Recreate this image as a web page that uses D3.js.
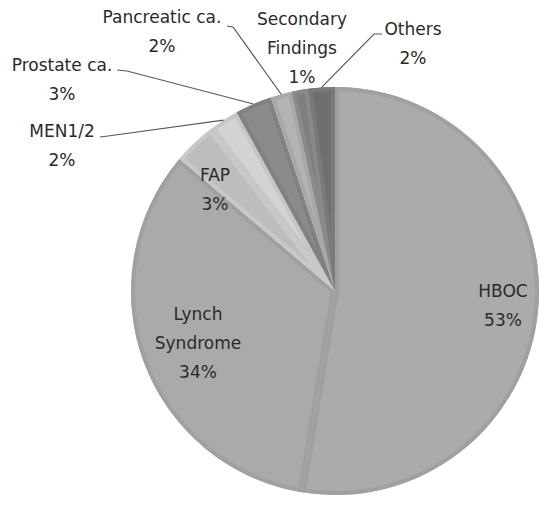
<!DOCTYPE html>
<html>
<head>
<meta charset="utf-8">
<script src="https://cdn.jsdelivr.net/npm/d3@7"></script>
<style>
  html, body { margin: 0; padding: 0; background: #fff; }
  svg { display: block; }
</style>
</head>
<body>
<div id="chart"></div>
<script>
// data, clockwise from 12 o'clock
const categories = ["HBOC", "Lynch Syndrome", "FAP", "MEN1/2", "Prostate ca.", "Pancreatic ca.", "Secondary Findings", "Others"];
const shares = [52.6, 33.6, 3.4, 2.4, 2.9, 1.7, 1.3, 2.1];

// label text lines (name part) per category
const labelLines = [["HBOC"], ["Lynch", "Syndrome"], ["FAP"], ["MEN1/2"], ["Prostate ca."], ["Pancreatic ca."], ["Secondary", "Findings"], ["Others"]];

// styling
const fills = ["#ababab", "#aaaaaa", "#bdbdbd", "#d3d3d3", "#8b8b8b", "#b4b4b4", "#7f7f7f", "#6f6f6f"];
const rims  = ["#a0a0a0", "#a0a0a0", "#c8c8c8", "#c6c6c6", "#818181", "#a8a8a8", "#8a8a8a", "#7a7a7a"];

// label layout: block centre x, first baseline y, optional leader elbow (label side)
const labelPos = [
    { x: 503, y: 297 },
    { x: 198, y: 320 },
    { x: 215, y: 181 },
    { x: 62,  y: 137, lead: [[100, 137], [108, 136]] },
    { x: 62,  y: 71,  lead: [[117, 70], [127, 71]] },
    { x: 162, y: 23,  lead: [[227, 26], [233, 27]] },
    { x: 302, y: 25 },
    { x: 413, y: 35,  lead: [[382, 34], [374, 34]] }
];

const width = 551, height = 510;
const cx = 335, cy = 291, radius = 204;
const lineH = 29;

const svg = d3.select("#chart").append("svg")
    .attr("width", width)
    .attr("height", height);

const pie = d3.pie().sort(null).value(d => d)(shares);
const arc = d3.arc().innerRadius(0).outerRadius(radius);

const g = svg.append("g").attr("transform", `translate(${cx},${cy})`);

const defs = svg.append("defs");
pie.forEach((d, i) => {
    defs.append("clipPath").attr("id", "clip" + i)
        .append("path").attr("d", arc(d));
});

const slices = g.selectAll(".slice").data(pie).enter().append("g")
    .attr("class", "slice");

slices.append("path")
    .attr("d", arc)
    .attr("fill", (d, i) => fills[i]);

// bevel-like rim on each slice
slices.append("path")
    .attr("d", arc)
    .attr("fill", "none")
    .attr("stroke", (d, i) => rims[i])
    .attr("stroke-width", 8)
    .attr("clip-path", (d, i) => `url(#clip${i})`);

// leader lines
const edgePoint = d => {
    const a = (d.startAngle + d.endAngle) / 2;
    return [cx + radius * Math.sin(a), cy - radius * Math.cos(a)];
};

pie.forEach((d, i) => {
    const p = labelPos[i];
    if (!p.lead) return;
    const pts = [p.lead[0], p.lead[1], edgePoint(d)];
    svg.append("path")
        .attr("d", d3.line()(pts))
        .attr("fill", "none")
        .attr("stroke", "#595959")
        .attr("stroke-width", 1.2);
});

// labels
const labels = svg.selectAll(".label").data(pie).enter().append("text")
    .attr("class", "label")
    .attr("text-anchor", "middle")
    .attr("font-family", "'DejaVu Sans', Verdana, sans-serif")
    .attr("font-size", "17px")
    .attr("fill", "#2a2a2a");

labels.each(function(d, i) {
    const p = labelPos[i];
    const lines = labelLines[i].concat([Math.round(d.value) + "%"]);
    d3.select(this).selectAll("tspan").data(lines).enter().append("tspan")
        .attr("x", p.x)
        .attr("y", (t, j) => p.y + j * lineH)
        .text(t => t);
});
</script>
</body>
</html>
